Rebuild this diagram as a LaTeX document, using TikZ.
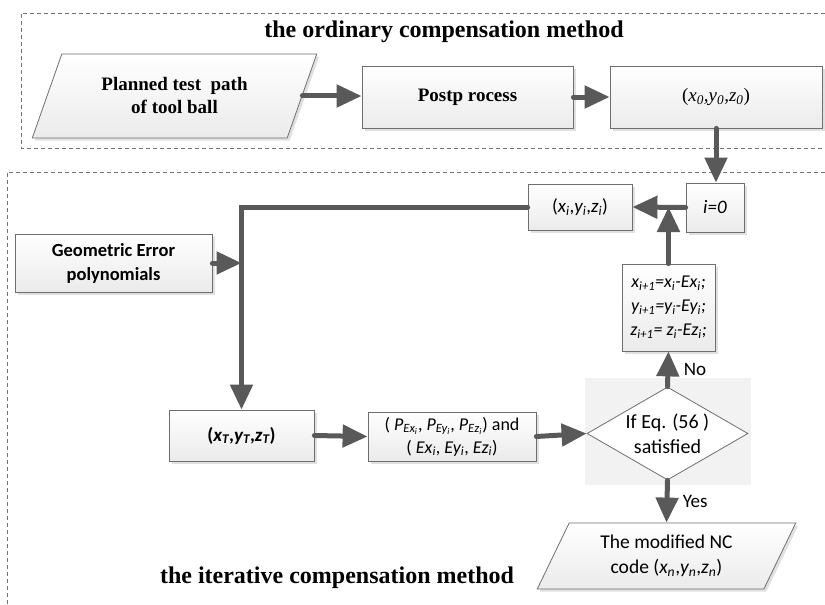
\documentclass[tikz,border=0pt]{standalone}
\usepackage{fontspec}
\setmainfont{Liberation Serif}
\newfontfamily\calibri{Carlito}
\usetikzlibrary{arrows.meta,shapes.geometric,shadows,positioning}
\definecolor{arrowgray}{RGB}{89,89,89}
\definecolor{edgegray}{RGB}{110,110,110}
\newcommand\ssub[1]{\textsubscript{#1}}
\tikzset{
    % boxes
    box/.style={draw=edgegray, line width=0.8pt, top color=white, bottom color=black!8, drop shadow={shadow xshift=2.5pt, shadow yshift=-2.5pt, fill=black, opacity=0.12}, inner sep=2pt, align=center},
    serifbox/.style={box, font=\fontsize{19}{23}\selectfont\bfseries},
    sansbox/.style={box, font=\calibri\fontsize{18}{24}\selectfont},
    slantbox/.style={trapezium, trapezium left angle=64, trapezium right angle=116, trapezium stretches=true},
    decision/.style={diamond, aspect=1.73, draw=edgegray, line width=0.8pt, fill=white, inner sep=-2pt, align=center, font=\calibri\fontsize{20}{25}\selectfont},
    % connectors and labels
    flow/.style={-{Triangle[length=25pt,width=22pt]}, line width=5pt, draw=arrowgray, line cap=round},
    frame/.style={draw=black!55, line width=0.6pt, dash pattern=on 4pt off 3pt},
    title/.style={font=\fontsize{24}{28}\selectfont\bfseries},
    tag/.style={font=\calibri\fontsize{19}{22}\selectfont}
}
\begin{document}
\begin{tikzpicture}[x=1pt, y=-1pt]
    \useasboundingbox (0,0) rectangle (825,605);
    % dashed frames of the two methods
    \draw[frame] (825,13) -| (21,148) -- (825,148);
    \draw[frame] (825,172) -| (7,605);
    \node[title] (ordtitle) at (444,32) {the ordinary compensation method};
    \node[title] (ittitle) at (337,578) {the iterative compensation method};

    % ordinary method
    \node[slantbox, serifbox, minimum width=285, minimum height=84] (plan) at (174.5,96) {Planned test\ \ path\\of tool ball};
    \node[serifbox, minimum width=211, minimum height=62] (post) at (467.5,97) {Postp rocess};
    \node[box, font=\fontsize{19}{23}\selectfont\itshape, minimum width=212, minimum height=62] (start) at (716,97) {\textup{(}x\ssub{0},y\ssub{0},z\ssub{0}\textup{)}};

    % iterative method
    \node[sansbox, font=\calibri\fontsize{19}{24}\selectfont, minimum width=58, minimum height=49] (init) at (715,207.5) {\textit{i=0}};
    \node[sansbox, font=\calibri\fontsize{19}{24}\selectfont, minimum width=104, minimum height=46] (cur) at (580,207) {(\textit{x\ssub{i}},\textit{y\ssub{i}},\textit{z\ssub{i}})};
    \node[sansbox, minimum width=93, minimum height=87] (update) at (668.5,307.5) {\textit{x\ssub{i+1}=x\ssub{i}-Ex\ssub{i};}\\\textit{y\ssub{i+1}=y\ssub{i}-Ey\ssub{i};}\\\textit{z\ssub{i+1}= z\ssub{i}-Ez\ssub{i};}};
    \fill[black!5] (585,378) rectangle (751,485);
    \node[decision, minimum width=161, minimum height=93] (check) at (667.5,433.5) {If Eq. (56 )\\satisfied};
    \node[slantbox, sansbox, font=\calibri\fontsize{19.5}{25}\selectfont, minimum width=259, minimum height=66] (result) at (666.5,556) {The modified NC\\code (\textit{x\ssub{n}},\textit{y\ssub{n}},\textit{z\ssub{n}})};
    \node[sansbox, font=\calibri\fontsize{18.5}{24}\selectfont\bfseries, minimum width=197, minimum height=58] (err) at (113.5,263) {Geometric Error\\polynomials};
    \node[sansbox, font=\calibri\fontsize{19}{24}\selectfont\bfseries, minimum width=145, minimum height=51] (target) at (241.5,435.5) {(\textit{x\ssub{T}},\textit{y\ssub{T}},\textit{z\ssub{T}})};
    \node[sansbox, font=\calibri\fontsize{18}{23}\selectfont, minimum width=168, minimum height=49] (dev) at (452,436.5) {( \textit{P\ssub{Ex\ssub{i}}}, \textit{P\ssub{Ey\ssub{i}}}, \textit{P\ssub{Ez\ssub{i}}}) and\\( \textit{Ex\ssub{i}}, \textit{Ey\ssub{i}}, \textit{Ez\ssub{i}})};

    % arrows
    \draw[flow] (plan.east) -- (plan.east -| post.west);
    \draw[flow] (post.east) -- (start.west);
    \draw[flow] (start.south) -- (start.south |- init.north);
    \draw[flow] (init.west) -- (cur.east);
    \draw[flow] (update.north) -- (update.north |- cur.east);
    \draw[flow] (check.north) -- node[tag, right=10pt] {No} (update.south);
    \draw[flow] (check.south) -- node[tag, right=10pt] {Yes} (result.north);
    \draw[flow] (cur.west) -| (target.north);
    \draw[flow] (err.east) -- (err.east -| target.north);
    \draw[flow] (target.east) -- (dev.west);
    \draw[flow] (dev.east) -- (check.west);
\end{tikzpicture}
\end{document}
